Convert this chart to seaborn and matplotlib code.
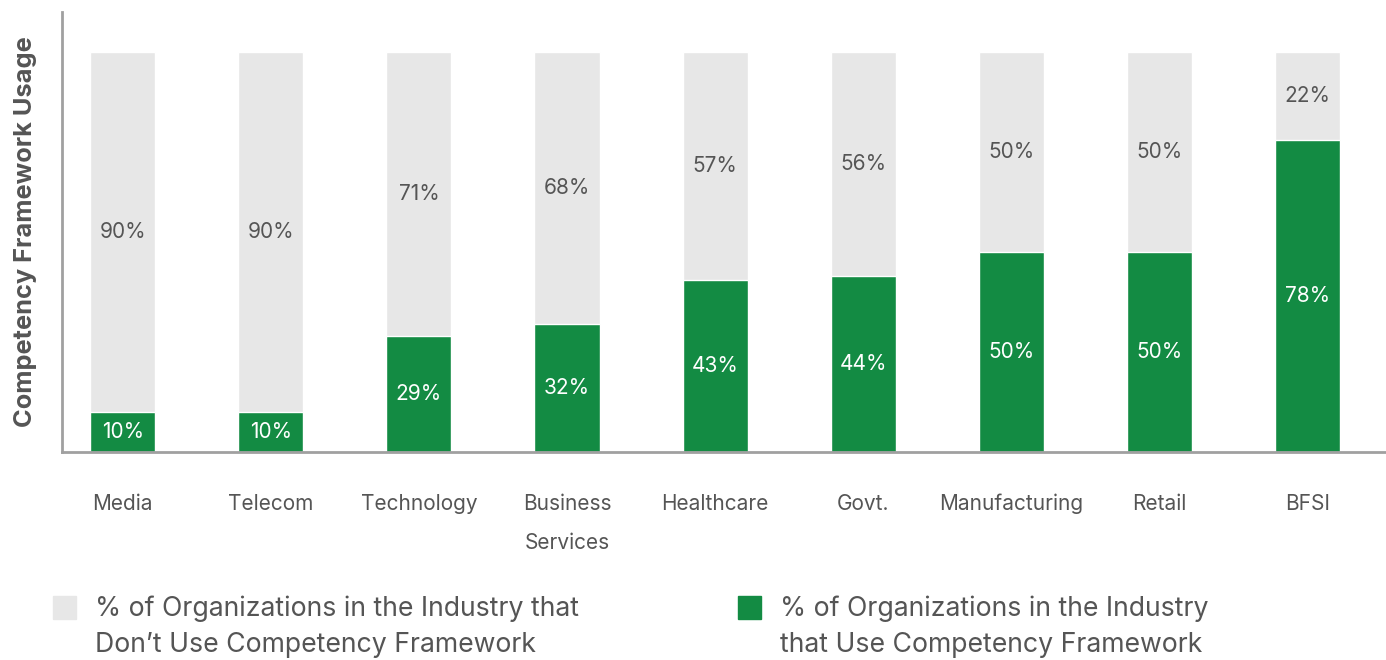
import matplotlib
matplotlib.use("Agg")
import numpy as np
import pandas as pd
import seaborn as sns
import matplotlib.pyplot as plt
from matplotlib.patches import Rectangle

# data
industries = ["Media", "Telecom", "Technology", "Business\nServices", "Healthcare",
              "Govt.", "Manufacturing", "Retail", "BFSI"]
use_pct = [10, 10, 29, 32, 43, 44, 50, 50, 78]
dont_use_pct = [90, 90, 71, 68, 57, 56, 50, 50, 22]

legend_dont = "% of Organizations in the Industry that\nDon\u2019t Use Competency Framework"
legend_use = "% of Organizations in the Industry\nthat Use Competency Framework"

GREEN = "#138B43"
GRAY = "#E7E7E7"
TEXT = "#555555"

sns.set_style("white")
plt.rcParams["font.family"] = ["Inter", "DejaVu Sans"]

df = pd.DataFrame({"industry": industries, "use": use_pct, "dont": dont_use_pct})
df["total"] = df["use"] + df["dont"]

W, H = 1386, 660
fig = plt.figure(figsize=(W / 100, H / 100), dpi=100)
ax = fig.add_axes([62 / W, 1 - 452 / H, 1 - 62 / W, 440 / H])

sns.barplot(data=df, x="industry", y="total", color=GRAY, width=0.44,
            saturation=1, ax=ax)
sns.barplot(data=df, x="industry", y="use", color=GREEN, width=0.44,
            saturation=1, ax=ax)

# percentage labels in the middle of each segment
for i, row in df.iterrows():
    ax.text(i, row["use"] / 2, f"{row['use']}%", ha="center", va="center",
            color="white", fontsize=15)
    ax.text(i, row["use"] + row["dont"] / 2, f"{row['dont']}%", ha="center",
            va="center", color=TEXT, fontsize=15)

ax.set_xlim(-0.41, 8.53)
ax.set_ylim(0, 110)
ax.set_yticks([])
ax.set_xlabel("")
ax.set_ylabel("Competency Framework Usage", fontsize=18.3, fontweight="bold",
              color=TEXT, labelpad=18)
ax.tick_params(axis="x", length=0, pad=30, labelsize=15, labelcolor=TEXT)
for lbl in ax.get_xticklabels():
    lbl.set_linespacing(2.2)
    lbl.set_verticalalignment("top")

sns.despine(ax=ax, top=True, right=True)
for side in ["left", "bottom"]:
    ax.spines[side].set_color("#A0A0A0")
    ax.spines[side].set_linewidth(2)

# legend drawn by hand: square aligned with the first text line
for sq_x, color, label in [(53, GRAY, legend_dont), (738, GREEN, legend_use)]:
    fig.patches.append(Rectangle((sq_x / W, 1 - 619 / H), 23 / W, 23 / H,
                                 color=color, transform=fig.transFigure))
    fig.text((sq_x + 42) / W, 1 - 596 / H, label, ha="left", va="top",
             fontsize=19.2, color=TEXT, linespacing=1.5)

fig.savefig("out.png", dpi=100)
